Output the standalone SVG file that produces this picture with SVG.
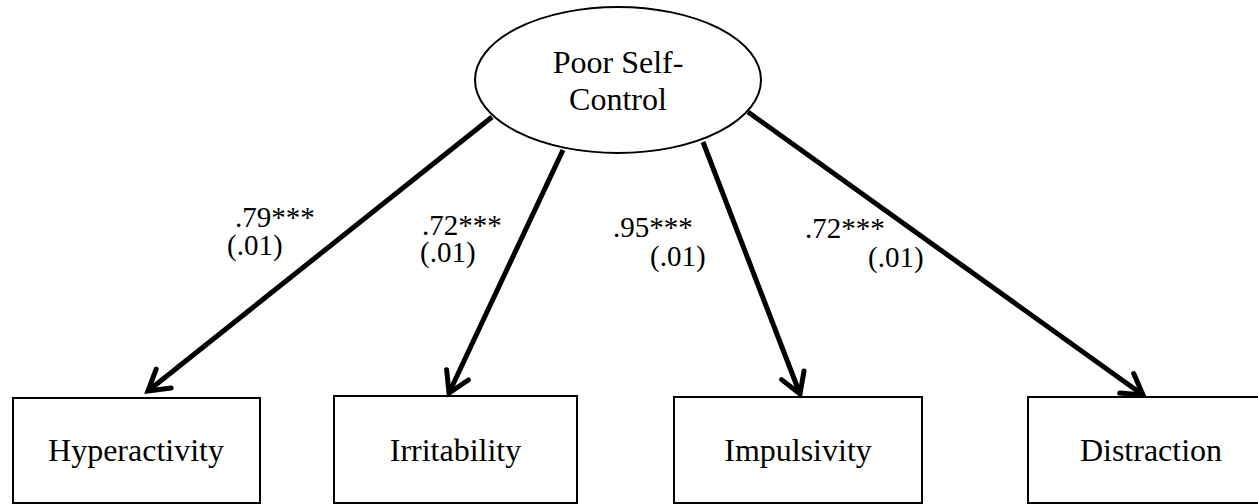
<svg xmlns="http://www.w3.org/2000/svg" width="1258" height="504" viewBox="0 0 1258 504">
  <style>
    .node-shape { fill: #fff; stroke: #000; stroke-width: 2; }
    .node-text { font-family: "Liberation Serif", "Times New Roman", serif; font-size: 32px; fill: #000; text-anchor: middle; }
    .coef { font-family: "Liberation Serif", "Times New Roman", serif; font-size: 29px; fill: #000; }
    .path-line { fill: none; stroke: #000; stroke-width: 5; marker-end: url(#arrow); }
  </style>
  <defs>
    <marker id="arrow" viewBox="-30 -20 40 40" refX="0" refY="0" markerWidth="40" markerHeight="40" markerUnits="userSpaceOnUse" orient="auto">
      <path d="M-20,-12 L0,0 L-20,12" fill="none" stroke="#000" stroke-width="5" stroke-linecap="round" stroke-linejoin="miter"/>
    </marker>
  </defs>

  <rect width="1258" height="504" fill="#fff"/>

  <!-- latent factor -->
  <g id="poor-self-control">
    <ellipse class="node-shape" cx="618" cy="80" rx="143" ry="73"/>
    <text class="node-text" x="618" y="73">Poor Self-</text>
    <text class="node-text" x="618" y="110">Control</text>
  </g>

  <!-- indicators -->
  <g id="hyperactivity">
    <rect class="node-shape" x="13" y="398" width="247" height="105"/>
    <text class="node-text" x="136" y="461">Hyperactivity</text>
  </g>
  <g id="irritability">
    <rect class="node-shape" x="334" y="396" width="243" height="107"/>
    <text class="node-text" x="455.5" y="461">Irritability</text>
  </g>
  <g id="impulsivity">
    <rect class="node-shape" x="674" y="397" width="248" height="106"/>
    <text class="node-text" x="798" y="461">Impulsivity</text>
  </g>
  <g id="distraction">
    <rect class="node-shape" x="1028" y="397" width="250" height="106"/>
    <text class="node-text" x="1151" y="461">Distraction</text>
  </g>

  <!-- factor loadings -->
  <g id="connectors">
    <line class="path-line" x1="492" y1="117" x2="148" y2="391"/>
    <line class="path-line" x1="563" y1="150" x2="449" y2="393"/>
    <line class="path-line" x1="703" y1="142" x2="800" y2="394"/>
    <line class="path-line" x1="748" y1="112" x2="1143" y2="395"/>
  </g>

  <g id="loading-labels">
    <text class="coef" x="235" y="227">.79***</text>
    <text class="coef" x="227" y="255">(.01)</text>
    <text class="coef" x="422" y="235">.72***</text>
    <text class="coef" x="420" y="262">(.01)</text>
    <text class="coef" x="613" y="237">.95***</text>
    <text class="coef" x="650" y="266">(.01)</text>
    <text class="coef" x="805" y="238">.72***</text>
    <text class="coef" x="868" y="267">(.01)</text>
  </g>
</svg>
